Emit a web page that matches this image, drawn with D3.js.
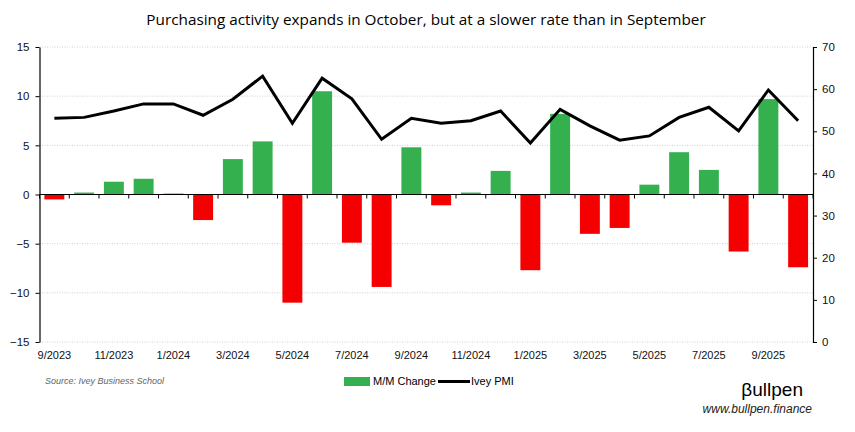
<!DOCTYPE html>
<html>
<head>
<meta charset="utf-8">
<script src="https://cdn.jsdelivr.net/npm/d3@7"></script>
<style>
  body { margin: 0; background: #fff; }
  text { font-family: "Liberation Sans Narrow", "Liberation Sans", Arial, sans-serif; }
</style>
</head>
<body>
<div id="canvas"></div>
<script>
// months shown on the x axis
var months = ["9/2023","10/2023","11/2023","12/2023","1/2024","2/2024","3/2024","4/2024","5/2024","6/2024","7/2024","8/2024","9/2024",
  "10/2024","11/2024","12/2024","1/2025","2/2025","3/2025","4/2025","5/2025","6/2025","7/2025","8/2025","9/2025","10/2025"];
// M/M change (left axis)
var mmChange = [-0.5, 0.2, 1.3, 1.6, 0.1, -2.6, 3.6, 5.4, -11.0, 10.5, -4.9, -9.4, 4.8,
  -1.1, 0.2, 2.4, -7.7, 8.2, -4.0, -3.4, 1.0, 4.3, 2.5, -5.8, 9.7, -7.4];
// Ivey PMI (right axis)
var ivey = [53.1, 53.3, 54.8, 56.5, 56.5, 53.8, 57.6, 63.1, 51.9, 62.6, 57.7, 48.1, 53.1,
  51.9, 52.5, 54.8, 47.2, 55.2, 51.3, 47.9, 48.9, 53.3, 55.7, 50.1, 59.8, 52.5];
var leftTicks = [-15, -10, -5, 0, 5, 10, 15];
var rightTicks = [0, 10, 20, 30, 40, 50, 60, 70];

var W = 855, H = 432;
var mLeft = 39.5, mRight = 813, mTop = 47, mBottom = 342;

var svg = d3.select("#canvas").append("svg")
    .attr("width", W)
    .attr("height", H);

svg.append("text")
    .attr("x", 426)
    .attr("y", 25)
    .attr("text-anchor", "middle")
    .style("font-family", "'Open Sans', sans-serif")
    .style("font-size", "15.3px")
    .text("Purchasing activity expands in October, but at a slower rate than in September");

var x = d3.scaleBand()
    .domain(months)
    .range([mLeft, mRight])
    .paddingInner(0.33)
    .paddingOuter(0.165);

var y = d3.scaleLinear().domain([-15, 15]).range([mBottom, mTop]);
var y2 = d3.scaleLinear().domain([0, 70]).range([mBottom, mTop]);

// dotted grid
svg.selectAll(".grid")
    .data(leftTicks.filter(d => d != 0))
    .enter().append("line")
    .attr("x1", mLeft).attr("x2", mRight)
    .attr("y1", d => y(d)).attr("y2", d => y(d))
    .attr("stroke", "#d0d0d0")
    .attr("stroke-dasharray", "1,1.5");

svg.selectAll(".bar")
    .data(mmChange)
    .enter().append("rect")
    .attr("x", (d, i) => x(months[i]))
    .attr("width", x.bandwidth())
    .attr("y", d => y(Math.max(0, d)))
    .attr("height", d => Math.abs(y(d) - y(0)))
    .attr("fill", d => d >= 0 ? "#34b04f" : "#f40000");

// zero line + category ticks
svg.append("line")
    .attr("x1", mLeft).attr("x2", mRight)
    .attr("y1", y(0)).attr("y2", y(0))
    .attr("stroke", "#000").attr("stroke-width", 1.2);

var step = x.step();
svg.selectAll(".xtick")
    .data(d3.range(months.length + 1))
    .enter().append("line")
    .attr("x1", i => mLeft + i * step).attr("x2", i => mLeft + i * step)
    .attr("y1", y(0)).attr("y2", y(0) + 4)
    .attr("stroke", "#000");

var line = d3.line()
    .x((d, i) => x(months[i]) + x.bandwidth() / 2)
    .y(d => y2(d));

svg.append("path")
    .datum(ivey)
    .attr("d", line)
    .attr("fill", "none")
    .attr("stroke", "#000")
    .attr("stroke-width", 3)
    .attr("stroke-linejoin", "miter");

var yAxis = d3.axisLeft(y).tickValues(leftTicks).tickSize(4).tickSizeOuter(0);
var gl = svg.append("g").attr("transform", "translate(" + mLeft + ",0)").call(yAxis);
var y2Axis = d3.axisRight(y2).tickValues(rightTicks).tickSize(4).tickSizeOuter(0);
var gr = svg.append("g").attr("transform", "translate(" + mRight + ",0)").call(y2Axis);
[gl, gr].forEach(function(g) {
    g.select(".domain").attr("stroke", "#000").attr("stroke-width", 1.2);
    g.selectAll("text").style("font-size", "11.5px").attr("fill", "#111")
      .style("font-family", "'Liberation Sans', Arial, sans-serif");
});
gl.selectAll("text").attr("x", -10);
gr.selectAll("text").attr("x", 9);

// x labels every other month
svg.selectAll(".xlab")
    .data(months.filter((d, i) => i % 2 == 0))
    .enter().append("text")
    .attr("x", d => x(d) + x.bandwidth() / 2)
    .attr("y", 359)
    .attr("text-anchor", "middle")
    .style("font-size", "11px")
    .attr("fill", "#111")
    .text(d => d);

svg.append("text")
    .attr("x", 45).attr("y", 384)
    .style("font-size", "9px")
    .style("font-style", "italic")
    .attr("fill", "#666")
    .text("Source: Ivey Business School");

// legend
svg.append("rect").attr("x", 344).attr("y", 377).attr("width", 26).attr("height", 9).attr("fill", "#34b04f");
svg.append("text").attr("x", 373).attr("y", 385).style("font-size", "11px").text("M/M Change");
svg.append("line").attr("x1", 438).attr("x2", 470).attr("y1", 381.5).attr("y2", 381.5)
    .attr("stroke", "#000").attr("stroke-width", 3);
svg.append("text").attr("x", 471).attr("y", 385).style("font-size", "11px").text("Ivey PMI");

svg.append("text")
    .attr("x", 803).attr("y", 396)
    .attr("text-anchor", "end")
    .style("font-size", "19px")
    .text("βullpen");
svg.append("text")
    .attr("x", 812).attr("y", 413)
    .attr("text-anchor", "end")
    .style("font-size", "12px")
    .style("font-style", "italic")
    .attr("fill", "#222")
    .text("www.bullpen.finance");
</script>
</body>
</html>
